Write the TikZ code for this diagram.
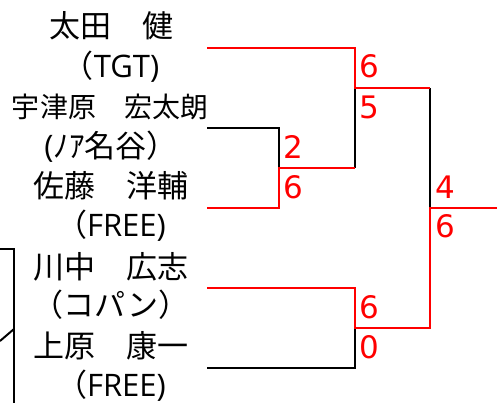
\documentclass[tikz,border=0pt]{standalone}
\usepackage{fontspec}
\setmainfont{Noto Sans CJK JP}
\newfontfamily\digitfont{DejaVu Sans}
\newfontfamily\latinfont{Open Sans}
\begin{document}
\begin{tikzpicture}[x=1pt,y=-1pt,
  lbl/.style={font=\fontsize{31}{31}\selectfont, inner sep=0pt, anchor=base},
  lblsmall/.style={font=\fontsize{28}{28}\selectfont, inner sep=0pt, anchor=base},
  score/.style={font=\digitfont\fontsize{31}{31}\selectfont, text=red, inner sep=0pt, anchor=base west},
  win/.style={draw=red, line width=2pt},
  lose/.style={draw=black, line width=2pt}]
\useasboundingbox (0,0) rectangle (497,403);
% names
\node[lbl] (n1) at (111,37.5) {太田　健};
\node[lbl] (t1) at (111,77.5) {（{\latinfont TGT)}};
\node[lblsmall] (n2) at (110,118) {宇津原　宏太朗};
\node[lbl] (t2) at (111,157.5) {{\latinfont (}ﾉｱ名谷）};
\node[lbl] (n3) at (111,197.5) {佐藤　洋輔};
\node[lbl] (t3) at (111,236.5) {（{\latinfont FREE)}};
\node[lbl] (n4) at (111,278) {川中　広志};
\node[lbl] (t4) at (111,316.5) {（コパン）};
\node[lbl] (n5) at (111,357) {上原　康一};
\node[lbl] (t5) at (111,396.5) {（{\latinfont FREE)}};
% scores
\node[score] (s1) at (359,78) {6};
\node[score] (s2) at (359,118.5) {5};
\node[score] (s3) at (283,158.5) {2};
\node[score] (s4) at (283,198) {6};
\node[score] (s5) at (435,198) {4};
\node[score] (s6) at (435,237.5) {6};
\node[score] (s7) at (359,318) {6};
\node[score] (s8) at (359,358) {0};
% bracket points
\coordinate (p1) at (207,48);
\coordinate (p2) at (207,128);
\coordinate (p3) at (207,208);
\coordinate (p4) at (207,288);
\coordinate (p5) at (207,368);
\coordinate (a1) at (355,48);
\coordinate (m1) at (355,88);
\coordinate (b1) at (279,128);
\coordinate (m2) at (279,168);
\coordinate (b2) at (279,208);
\coordinate (a2) at (355,168);
\coordinate (f1) at (430,88);
\coordinate (f) at (430,208);
\coordinate (out) at (497,208);
\coordinate (c1) at (355,288);
\coordinate (m3) at (355,328);
\coordinate (c2) at (355,368);
\coordinate (f2) at (430,328);
\coordinate (l1) at (0,249);
\coordinate (l2) at (14,249);
\coordinate (l3) at (14,403);
\coordinate (l4) at (14,329);
\coordinate (l5) at (0,341);
% losers
\draw[lose] (p2) -- (b1) -- (m2);
\draw[lose] (m1) -- (a2);
\draw[lose] (f1) -- (f);
\draw[lose] (p5) -- (c2) -- (m3);
\draw[lose] (l1) -- (l2) -- (l3);
\draw[lose] (l4) -- (l5);
% winners
\draw[win] (p1) -- (a1) -- (m1) -- (f1);
\draw[win] (p3) -- (b2) -- (m2) -- (a2);
\draw[win] (p4) -- (c1) -- (m3) -- (f2) -- (f) -- (out);
\end{tikzpicture}
\end{document}
